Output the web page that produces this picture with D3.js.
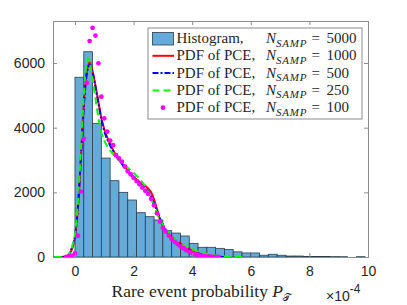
<!DOCTYPE html>
<html>
<head>
<meta charset="utf-8" />
<title>Histogram and PCE PDFs</title>
<style>
  body { margin: 0; background: #fff; }
  svg { display: block; }
  .tick text { font-family: "Liberation Sans", Arial, sans-serif; font-size: 14px; fill: #262626; }
</style>
</head>
<body>
<svg width="407" height="305"></svg>
<script src="https://d3js.org/d3.v7.min.js"></script>
<script>
// histogram (density), bins of width 0.3 (x1e-4) starting at 0
const binWidth = 0.3;
const histHeights = [5560, 6350, 4135, 3060, 2360, 2000, 1763, 1370, 1247, 1144, 815, 740,
  650, 423, 300, 300, 268, 230, 160, 125, 125, 55, 85, 55, 30, 30, 15, 15, 15, 12, 10, 0, 10];

// PDF of PCE, N = 1000 (red)
const redX = [-0.7, -0.4, -0.3, -0.2, -0.1, 0, 0.1, 0.2, 0.3, 0.4, 0.5, 0.6, 0.7, 0.8, 0.9, 1.0, 1.2, 1.4, 1.6, 1.8,
  2.0, 2.2, 2.4, 2.5, 2.6, 2.7, 2.8, 2.9, 3.0, 3.2, 3.4, 3.6, 3.8, 4.0, 4.2, 4.4, 4.6, 4.8, 5.0];
const redY = [0, 0, 10, 80, 250, 600, 1500, 3000, 4700, 5700, 6020, 5750, 5300, 4800, 4300, 3950, 3500, 3150, 2900, 2680,
  2480, 2330, 2200, 2120, 2000, 1780, 1480, 1170, 960, 700, 540, 420, 300, 200, 115, 60, 30, 10, 0];

// PDF of PCE, N = 500 (blue)
const blueX = [-0.7, -0.4, -0.3, -0.2, -0.1, 0, 0.1, 0.2, 0.3, 0.4, 0.5, 0.6, 0.7, 0.8, 0.9, 1.0, 1.2, 1.4, 1.6, 1.8,
  2.0, 2.2, 2.4, 2.6, 2.8, 3.0, 3.2, 3.4, 3.6, 3.8, 4.0, 4.2, 4.4, 4.6, 4.8, 5.1];
const blueY = [0, 5, 20, 100, 300, 650, 1550, 3050, 4650, 5650, 5950, 5700, 5250, 4750, 4250, 3900, 3450, 3150, 2880, 2650,
  2450, 2280, 2150, 1880, 1420, 1000, 730, 550, 390, 270, 175, 110, 70, 40, 20, 0];

// PDF of PCE, N = 250 (green)
const greenX = [-0.7, -0.4, -0.3, -0.2, -0.1, 0, 0.1, 0.2, 0.3, 0.4, 0.45, 0.5, 0.6, 0.7, 0.8, 0.9, 1.0, 1.2, 1.4, 1.6, 1.8,
  2.0, 2.2, 2.4, 2.6, 2.8, 3.0, 3.2, 3.4, 3.6, 3.8, 4.0, 4.2, 4.4, 4.6, 4.8, 5.0, 5.2, 5.4, 5.7];
const greenY = [0, 5, 20, 110, 320, 700, 1700, 3300, 5000, 6000, 6150, 6050, 5500, 4900, 4300, 3850, 3600, 3300, 3080, 2920, 2760,
  2600, 2420, 2180, 1800, 1350, 1000, 750, 560, 420, 320, 240, 170, 120, 80, 50, 30, 15, 8, 0];

// PDF of PCE, N = 100 (magenta markers)
const magX = [-0.3, -0.2, -0.1, 0, 0.1, 0.2, 0.3, 0.4, 0.5, 0.6, 0.7, 0.8, 0.9, 1.0, 1.1, 1.2, 1.3, 1.4, 1.5, 1.6, 1.7,
  1.8, 1.9, 2.0, 2.1, 2.2, 2.3, 2.4, 2.5, 2.6, 2.7, 2.8, 2.9, 3.0, 3.1, 3.2, 3.3, 3.4, 3.5, 3.6, 3.7, 3.8, 3.9, 4.0,
  4.1, 4.2, 4.3, 4.4, 4.5, 4.6, 4.7, 4.8, 4.9];
const magY = [0, 15, 40, 110, 660, 2020, 3650, 5390, 6680, 7090, 6850, 5990, 4960, 4290, 3880, 3600, 3460, 3150, 3050, 2950, 2800,
  2650, 2560, 2450, 2350, 2250, 2150, 2050, 1950, 1800, 1600, 1350, 1100, 900, 780, 660, 560, 470, 400, 330, 270, 210, 160, 120,
  90, 65, 45, 30, 20, 12, 6, 2, 0];

const xTicks = [0, 2, 4, 6, 8, 10];
const yTicks = [0, 2000, 4000, 6000];

const legendItems = [
  { label: "Histogram,", n: "5000", type: "hist" },
  { label: "PDF of PCE,", n: "1000", type: "red" },
  { label: "PDF of PCE,", n: "500", type: "blue" },
  { label: "PDF of PCE,", n: "250", type: "green" },
  { label: "PDF of PCE,", n: "100", type: "mag" }
];

const svg = d3.select("svg");
const margin = { left: 53, right: 39, top: 21, bottom: 48 };
const width = 407 - margin.left - margin.right;
const height = 305 - margin.top - margin.bottom;
const g = svg.append("g").attr("transform", `translate(${margin.left},${margin.top})`);

const x = d3.scaleLinear().domain([-0.75, 10]).range([0, width]);
const y = d3.scaleLinear().domain([0, 7300]).range([height, 0]);

svg.append("defs").append("clipPath").attr("id", "clip")
  .append("rect").attr("width", width).attr("height", height);

const plot = g.append("g").attr("clip-path", "url(#clip)");

// histogram bars
plot.selectAll("rect.bar")
  .data(histHeights)
  .join("rect")
  .attr("class", "bar")
  .attr("x", (d, i) => x(i * binWidth))
  .attr("width", x(binWidth) - x(0))
  .attr("y", d => y(d))
  .attr("height", d => y(0) - y(d))
  .attr("fill", "#66aad7")
  .attr("stroke", "#2a3f4e")
  .attr("stroke-width", 0.8);

const line = d3.line().x(d => x(d[0])).y(d => y(d[1])).curve(d3.curveMonotoneX);
const zip = (a, b) => a.map((v, i) => [v, b[i]]);

plot.append("path").datum(zip(redX, redY))
  .attr("d", line).attr("fill", "none").attr("stroke", "#ff0000").attr("stroke-width", 2);
plot.append("path").datum(zip(blueX, blueY))
  .attr("d", line).attr("fill", "none").attr("stroke", "#0000ff").attr("stroke-width", 2)
  .attr("stroke-dasharray", "6,2,2,2");
plot.append("path").datum(zip(greenX, greenY))
  .attr("d", line).attr("fill", "none").attr("stroke", "#00ff00").attr("stroke-width", 2)
  .attr("stroke-dasharray", "7,4");
plot.selectAll("circle.mag")
  .data(zip(magX, magY))
  .join("circle")
  .attr("class", "mag")
  .attr("cx", d => x(d[0]))
  .attr("cy", d => y(d[1]))
  .attr("r", 2.4)
  .attr("fill", "#ff00ff");

// axes with inward ticks and box
const axisColor = "#8c8c8c";
const xAxis = g.append("g").attr("transform", `translate(0,${height})`)
  .call(d3.axisBottom(x).tickValues(xTicks).tickSize(-4).tickPadding(9).tickFormat(d3.format("d")));
g.append("g")
  .call(d3.axisLeft(y).tickValues(yTicks).tickSize(-4).tickPadding(8).tickFormat(d3.format("d")));
g.append("g")
  .call(d3.axisTop(x).tickValues(xTicks).tickSize(-4).tickFormat(""));
g.append("g").attr("transform", `translate(${width},0)`)
  .call(d3.axisRight(y).tickValues(yTicks).tickSize(-4).tickFormat(""));
g.selectAll(".domain").attr("stroke", axisColor);
g.selectAll(".tick line").attr("stroke", axisColor);
xAxis.selectAll(".tick text").attr("dy", "0.71em");

// legend
const serif = "'Liberation Serif', 'Times New Roman', serif";
const lg = g.append("g").attr("transform", "translate(95,7)");
lg.append("rect").attr("width", 214).attr("height", 91)
  .attr("fill", "#fff").attr("stroke", axisColor).attr("stroke-width", 1);
legendItems.forEach((it, i) => {
  const cy = 10.5 + i * 17.3;
  const row = lg.append("g").attr("transform", `translate(0,${cy})`);
  if (it.type === "hist") {
    row.append("rect").attr("x", 4.5).attr("y", -6).attr("width", 21).attr("height", 12.5)
      .attr("fill", "#66aad7").attr("stroke", "#2a3f4e").attr("stroke-width", 0.8);
  } else if (it.type === "mag") {
    row.append("circle").attr("cx", 15).attr("cy", 0).attr("r", 2.4).attr("fill", "#ff00ff");
  } else {
    const col = { red: "#ff0000", blue: "#0000ff", green: "#00ff00" }[it.type];
    const dash = { red: null, blue: "6,2,2,2", green: "7,4" }[it.type];
    row.append("line").attr("x1", 4.5).attr("x2", 26).attr("y1", 0).attr("y2", 0)
      .attr("stroke", col).attr("stroke-width", 2).attr("stroke-dasharray", dash);
  }
  const t = row.append("text").attr("x", 28.5).attr("y", 4.5)
    .style("font-family", serif).style("font-size", "15px").attr("fill", "#262626");
  t.append("tspan").text(it.label);
  t.append("tspan").attr("x", 118).style("font-style", "italic").text("N");
  t.append("tspan").attr("dy", 3.5).style("font-style", "italic").style("font-size", "11px")
    .style("letter-spacing", "0.8px").text("SAMP");
  t.append("tspan").attr("x", 163.5).attr("dy", -3.5).text("=");
  t.append("tspan").attr("x", 178.5).text(it.n);
});

// x label
const xl = svg.append("text")
  .attr("x", 111.5).attr("y", 296.5)
  .style("font-family", serif).style("font-size", "17.5px").attr("fill", "#262626");
xl.append("tspan").text("Rare event probability ");
xl.append("tspan").style("font-style", "italic").text("P");
xl.append("tspan").attr("dy", 4).style("font-size", "10px").text("𝒯");

// exponent
const ex = svg.append("text").attr("x", 326).attr("y", 301)
  .style("font-family", "'Liberation Sans', Arial, sans-serif")
  .style("font-size", "14px").attr("fill", "#262626");
ex.append("tspan").text("×10");
ex.append("tspan").attr("dy", -8).style("font-size", "12px").text("-4");
</script>
</body>
</html>
